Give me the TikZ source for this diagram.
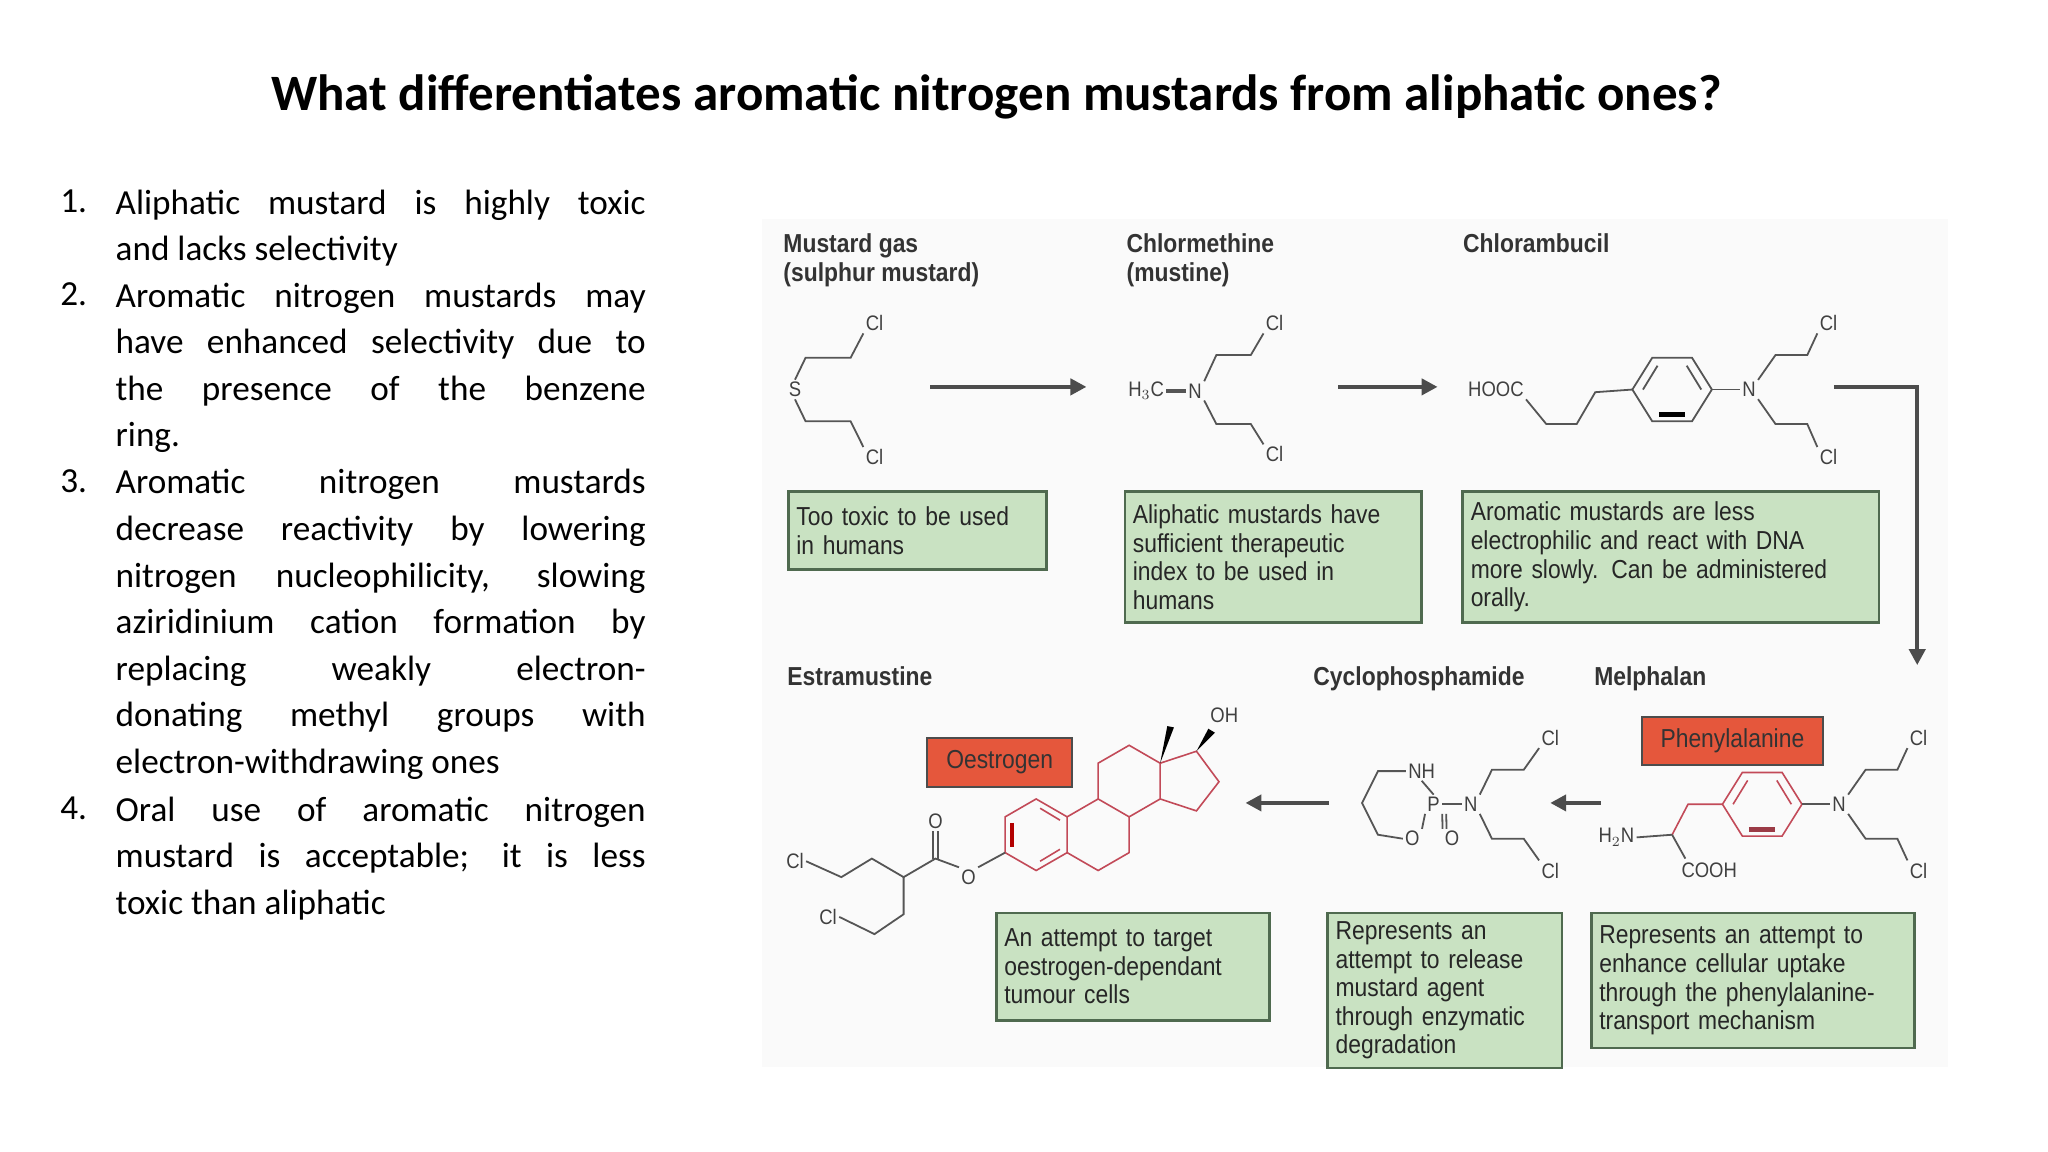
\documentclass[tikz,border=0pt]{standalone}
\usepackage{fontspec}
\setmainfont{Carlito}
\newfontfamily\figf[FakeStretch=0.88]{Liberation Sans}
\usetikzlibrary{arrows.meta}
\definecolor{gbox}{HTML}{C9E2C2}
\definecolor{gline}{HTML}{4F6A4F}
\definecolor{rbox}{HTML}{E5573C}
\definecolor{pinkb}{HTML}{C24A58}
\definecolor{bond}{HTML}{555555}
\tikzset{
 gbx/.style={draw=gline,line width=1.3pt,fill=gbox,anchor=north west,align=left,inner sep=4pt,font=\figf\fontsize{13}{14.3}\selectfont,text=black!85},
 gsz/.style 2 args={minimum width={#1*0.6625pt},minimum height={#2*0.6625pt},text width={#1*0.6625pt-8pt}},
 rbx/.style={draw=black!70,line width=1pt,fill=rbox,font=\figf\fontsize{13}{14}\selectfont,text=black!80,inner sep=0pt},
 rsz/.style 2 args={minimum width={#1*0.6625pt},minimum height={#2*0.6625pt}},
 lab/.style={anchor=north west,align=left,font=\figf\bfseries\fontsize{13}{14.5}\selectfont,text=black!80,inner sep=0pt},
 atom/.style={font=\figf\fontsize{10.5}{11}\selectfont,text=black!75,inner sep=1pt},
 bd/.style={draw=bond,line width=0.9pt},
 pb/.style={draw=pinkb,line width=0.8pt},
 arr/.style={draw=black!70,line width=2pt,-{Triangle[length=8pt,width=8pt]}},
 itm/.style={anchor=north west,inner sep=0pt,font=\fontsize{17.6}{23.3}\selectfont},
}
\begin{document}
\begin{tikzpicture}[x=0.6625pt,y=-0.6625pt]
\useasboundingbox (0,0) rectangle (1545.7,869.4);
\node[font=\bfseries\fontsize{25.5}{28}\selectfont] (title) at (752,73) {What differentiates aromatic nitrogen mustards from aliphatic ones?};
% list
\foreach \n/\y in {1/143,2/213,3/354,4/601}{\node[itm,anchor=north east] (n\n) at (66,\y) {\n.};}
\tikzset{itx/.style={itm,text width=265pt,align=justify}}
\node[itx] (i1) at (87,143) {\hyphenpenalty=10000 Aliphatic mustard is highly toxic\linebreak and lacks selectivity};
\node[itx] (i2) at (87,213) {\hyphenpenalty=10000 Aromatic nitrogen mustards may\linebreak have enhanced selectivity due to\linebreak the presence of the benzene\linebreak ring.};
\node[itx] (i3) at (87,354) {\hyphenpenalty=10000 Aromatic nitrogen mustards\linebreak decrease reactivity by lowering\linebreak nitrogen nucleophilicity, slowing\linebreak aziridinium cation formation by\linebreak replacing weakly electron-\linebreak donating methyl groups with\linebreak electron-withdrawing ones};
\node[itx] (i4) at (87,601) {\hyphenpenalty=10000 Oral use of aromatic nitrogen\linebreak mustard is acceptable; it is less\linebreak toxic than aliphatic};
% figure background
\fill[black!2] (575,165) rectangle (1470,805);
% labels
\node[lab] (l1) at (591,176) {Mustard gas\\(sulphur mustard)};
\node[lab] (l2) at (850,176) {Chlormethine\\(mustine)};
\node[lab] (l3) at (1104,176) {Chlorambucil};
\node[lab] (l4) at (594,503) {Estramustine};
\node[lab] (l5) at (991,503) {Cyclophosphamide};
\node[lab] (l6) at (1203,503) {Melphalan};
% green boxes
\node[gbx,gsz={195}{59}] (g1) at (594,370) {Too toxic to be used\\in humans};
\node[gbx,gsz={224}{99}] (g2) at (848,370) {Aliphatic mustards have\\sufficient therapeutic\\index to be used in\\humans};
\node[gbx,gsz={314}{99}] (g3) at (1103,370) {Aromatic mustards are less\\electrophilic and react with DNA\\more slowly. Can be administered\\orally.};
\node[gbx,gsz={206}{81}] (g4) at (751,688) {An attempt to target\\oestrogen-dependant\\tumour cells};
\node[gbx,gsz={177}{117}] (g5) at (1001,688) {Represents an\\attempt to release\\mustard agent\\through enzymatic\\degradation};
\node[gbx,gsz={244}{102}] (g6) at (1200,688) {Represents an attempt to\\enhance cellular uptake\\through the phenylalanine-\\transport mechanism};
% red boxes
\node[rbx,rsz={109}{37}] (oe) at (754.5,575.5) {Oestrogen};
\node[rbx,rsz={137}{36}] (ph) at (1307.5,559) {Phenylalanine};
% arrows
\coordinate (a1s) at (702,292); \coordinate (a1e) at (820,292);
\coordinate (a2s) at (1010,292); \coordinate (a2e) at (1085,292);
\coordinate (a3s) at (1384,292); \coordinate (a3c) at (1447,292); \coordinate (a3e) at (1447,502);
\coordinate (a4s) at (1003,606); \coordinate (a4e) at (940,606);
\coordinate (a5s) at (1208,606); \coordinate (a5e) at (1170,606);
\draw[arr] (a1s)--(a1e);
\draw[arr] (a2s)--(a2e);
\draw[arr] (a3s)--(a3c)--(a3e);
\draw[arr] (a4s)--(a4e);
\draw[arr] (a5s)--(a5e);
% mustard gas
\node[atom] (s) at (600,294) {S};
\node[atom] (c1) at (660,244) {Cl};
\node[atom] (c2) at (660,345) {Cl};
\draw[bd] (s.north)--(608,270)--(642,270)--(c1.south west);
\draw[bd] (s.south)--(608,318)--(642,318)--(c2.north west);
% chlormethine
\node[atom] (h3c) at (865,295) {H$_3$C};
\node[atom] (n1) at (902,295) {N};
\node[atom] (c3) at (962,244) {Cl};
\node[atom] (c4) at (962,343) {Cl};
\draw[bd,line width=1.8pt] (h3c.east)--(n1.west);
\draw[bd] (n1.north east)--(918,268)--(944,268)--(c3.south west);
\draw[bd] (n1.south east)--(918,320)--(944,320)--(c4.north west);
% chlorambucil
\node[atom] (hooc) at (1129,294) {HOOC};
\node[atom] (n2) at (1320,294) {N};
\node[atom] (c5) at (1380,244) {Cl};
\node[atom] (c6) at (1380,345) {Cl};
\draw[bd] (hooc.south east)--(1167,320)--(1190,320)--(1204,296)--(1232,294);
\draw[bd] (1232,294)--(1247,270)--(1277,270)--(1292,294)--(1277,318)--(1247,318)--cycle;
\draw[bd] (1240,294)--(1251,276) (1273,276)--(1284,294);
\draw[black,line width=2.5pt] (1252,313)--(1272,313);
\draw[bd] (1292,294)--(n2.west);
\draw[bd] (n2.north east)--(1340,268)--(1364,268)--(c5.south west);
\draw[bd] (n2.south east)--(1340,320)--(1364,320)--(c6.north west);
% melphalan
\node[atom] (h2n) at (1220,632) {H$_2$N};
\node[atom] (cooh) at (1290,657) {COOH};
\node[atom] (n3) at (1388,607) {N};
\node[atom] (c7) at (1448,557) {Cl};
\node[atom] (c8) at (1448,657) {Cl};
\draw[pb] (1300,607)--(1315,583)--(1345,583)--(1360,607)--(1345,631)--(1315,631)--cycle;
\draw[pb] (1308,607)--(1319,589) (1341,589)--(1352,607);
\draw[pinkb!80!black,line width=2.5pt] (1320,626)--(1340,626);
\draw[pb] (1300,607)--(1274,607)--(1262,630);
\draw[bd] (1262,630)--(h2n.east);
\draw[bd] (1262,630)--(1272,648);
\draw[bd] (1360,607)--(n3.west);
\draw[bd] (n3.north east)--(1408,581)--(1432,581)--(c7.south west);
\draw[bd] (n3.south east)--(1408,633)--(1432,633)--(c8.north west);
% cyclophosphamide
\node[atom] (nh) at (1073,582) {NH};
\node[atom] (p) at (1082,607) {P};
\node[atom] (n4) at (1110,607) {N};
\node[atom] (o1) at (1066,633) {O};
\node[atom] (o2) at (1096,633) {O};
\node[atom] (c9) at (1170,557) {Cl};
\node[atom] (c10) at (1170,657) {Cl};
\draw[bd] (nh.west)--(1040,582)--(1028,606)--(1040,630)--(o1.west);
\draw[bd] (nh.south)--(p.north);
\draw[bd] (o1.north east)--(p.south west);
\draw[bd] (p.south east)--(o2.north west);
\draw[bd] ([xshift=2pt]p.south east)--([xshift=2pt]o2.north west);
\draw[bd] (p.east)--(n4.west);
\draw[bd] (n4.north east)--(1126,581)--(1150,581)--(c9.south west);
\draw[bd] (n4.south east)--(1126,633)--(1150,633)--(c10.north west);
% estramustine
\node[atom] (oh) at (924,540) {OH};
\node[atom] (oe1) at (731,662) {O};
\node[atom] (oc) at (706,620) {O};
\node[atom] (cl11) at (600,650) {Cl};
\node[atom] (cl12) at (625,692) {Cl};
\draw[pb] (782,603)--(805.4,616.5)--(805.4,643.5)--(782,657)--(758.6,643.5)--(758.6,616.5)--cycle;
\draw[pb] (785,610)--(800,619) (800,641)--(785,650);
\draw[red!70!black,line width=2pt] (764,621)--(764,639);
\draw[pb] (805.4,616.5)--(828.8,603)--(852.2,616.5)--(852.2,643.5)--(828.8,657)--(805.4,643.5);
\draw[pb] (828.8,603)--(828.8,576)--(852.2,562.5)--(875.6,576)--(875.6,603)--(852.2,616.5);
\draw[pb] (875.6,576)--(903,567)--(920,590)--(903,612)--(875.6,603);
\fill[black] (875.6,576)--(881,548)--(886,549)--cycle;
\fill[black] (903,567)--(912,550)--(917,553)--cycle;
\draw[bd] (758.6,643.5)--(oe1.north east);
\draw[bd] (oe1.north west)--(706,648)--(682,662)--(658,648)--(635,662)--(cl11.east);
\draw[bd] (704,648)--(704,627) (708,648)--(708,627);
\draw[bd] (682,662)--(682,690)--(660,705)--(cl12.east);
\end{tikzpicture}
\end{document}
